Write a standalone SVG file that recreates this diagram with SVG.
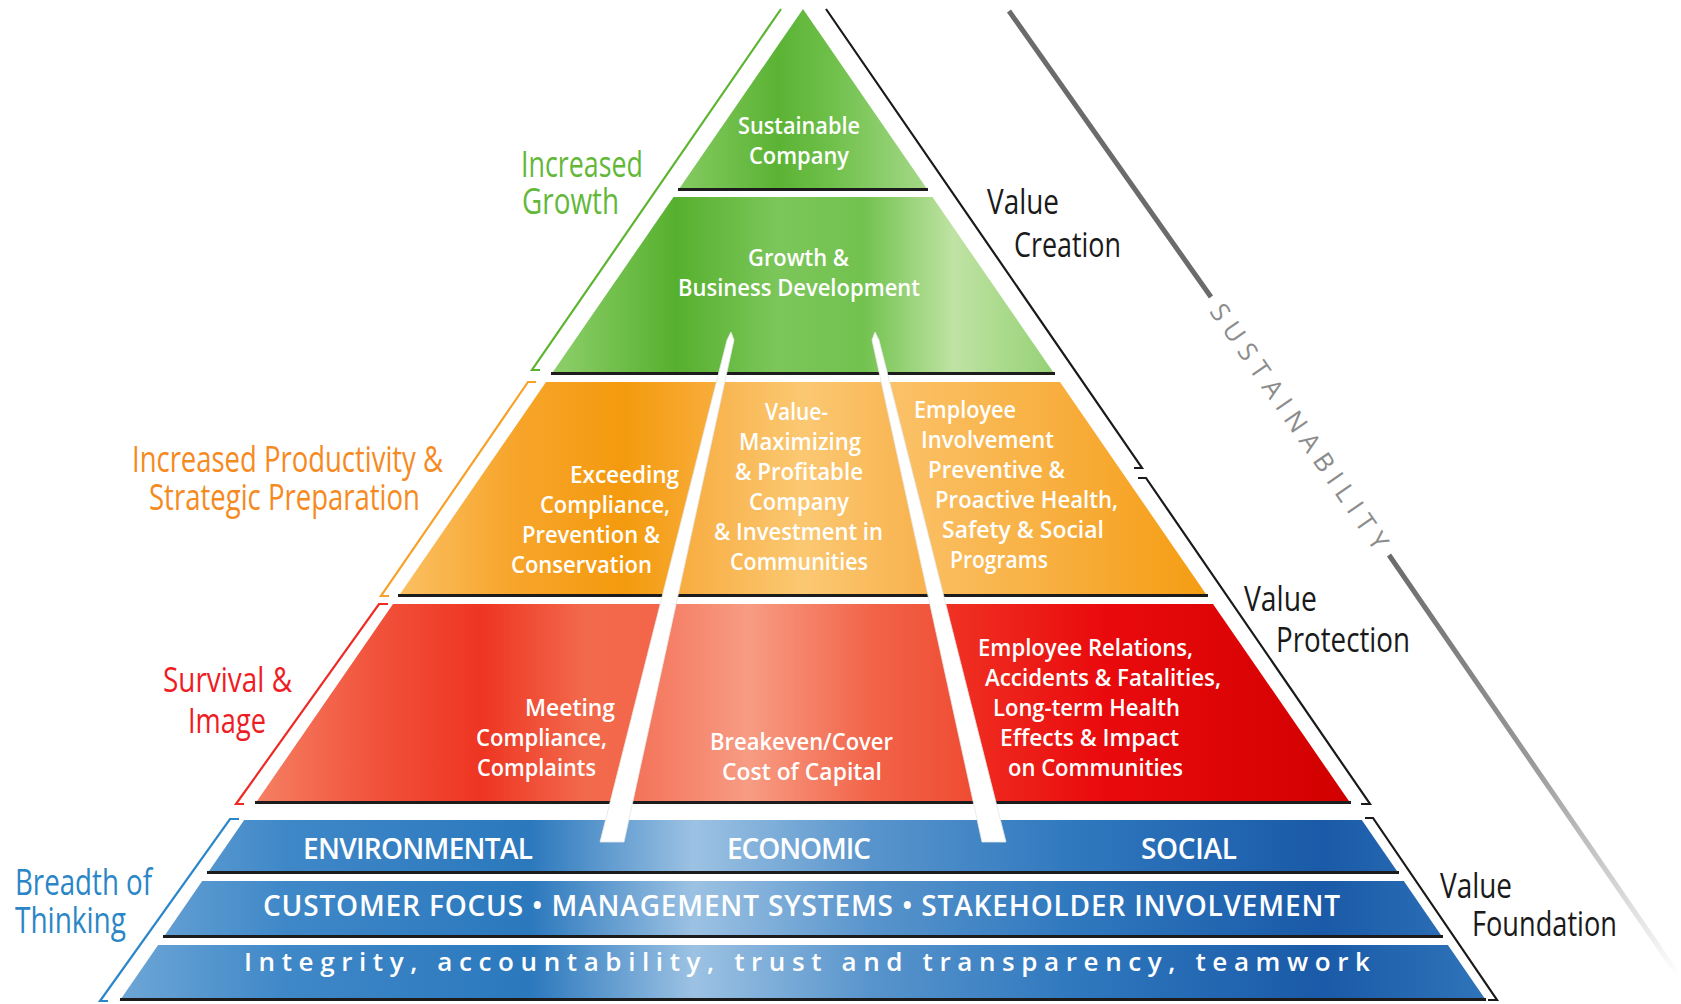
<svg xmlns="http://www.w3.org/2000/svg" width="1681" height="1004" viewBox="0 0 1681 1004">
<defs>
<style>
.tt{font-family:"Open Sans","Noto Sans","DejaVu Sans",sans-serif;font-weight:600;font-size:24px;fill:#ffffff}
.bt{font-family:"Open Sans","Noto Sans","DejaVu Sans",sans-serif;font-weight:600;font-size:28px;fill:#ffffff}
.lab{font-family:"Open Sans","Noto Sans","DejaVu Sans",sans-serif;font-weight:400;font-size:37px}
.dark{stroke:#1c1c1c;stroke-width:3;fill:none}
.br{fill:none;stroke-width:2.2;stroke-linejoin:miter}
.bar{fill:#ffffff;stroke:#e6e6e6;stroke-width:0.8}
</style>
<linearGradient id="gT1" gradientUnits="userSpaceOnUse" x1="677" y1="0" x2="929" y2="0">
<stop offset="0" stop-color="#86cb63"/><stop offset="0.4" stop-color="#5bb334"/><stop offset="0.6" stop-color="#6dbf48"/><stop offset="1" stop-color="#a6d98a"/>
</linearGradient>
<linearGradient id="gT2" gradientUnits="userSpaceOnUse" x1="550" y1="0" x2="1055" y2="0">
<stop offset="0" stop-color="#8fd06d"/><stop offset="0.25" stop-color="#56b02e"/><stop offset="0.45" stop-color="#7cc65a"/><stop offset="0.62" stop-color="#72c24f"/><stop offset="0.8" stop-color="#bfe3a3"/><stop offset="1" stop-color="#95d175"/>
</linearGradient>
<linearGradient id="gOL" gradientUnits="userSpaceOnUse" x1="398" y1="0" x2="720" y2="0">
<stop offset="0" stop-color="#fbc063"/><stop offset="0.35" stop-color="#f7a52c"/><stop offset="0.7" stop-color="#f49a0e"/><stop offset="1" stop-color="#f8ae3d"/>
</linearGradient>
<linearGradient id="gOM" gradientUnits="userSpaceOnUse" x1="670" y1="0" x2="936" y2="0">
<stop offset="0" stop-color="#f7aa3c"/><stop offset="0.5" stop-color="#fbc872"/><stop offset="1" stop-color="#f8b04a"/>
</linearGradient>
<linearGradient id="gOR" gradientUnits="userSpaceOnUse" x1="886" y1="0" x2="1208" y2="0">
<stop offset="0" stop-color="#fbc26a"/><stop offset="0.5" stop-color="#f8b041"/><stop offset="1" stop-color="#f59c12"/>
</linearGradient>
<linearGradient id="gRL" gradientUnits="userSpaceOnUse" x1="255" y1="0" x2="668" y2="0">
<stop offset="0" stop-color="#f58063"/><stop offset="0.3" stop-color="#f1513a"/><stop offset="0.55" stop-color="#ee3522"/><stop offset="0.8" stop-color="#f26a4c"/><stop offset="1" stop-color="#f4654a"/>
</linearGradient>
<linearGradient id="gRM" gradientUnits="userSpaceOnUse" x1="621" y1="0" x2="985" y2="0">
<stop offset="0" stop-color="#f36e54"/><stop offset="0.35" stop-color="#f79c83"/><stop offset="0.7" stop-color="#f26247"/><stop offset="1" stop-color="#ee4a30"/>
</linearGradient>
<linearGradient id="gRR" gradientUnits="userSpaceOnUse" x1="938" y1="0" x2="1351" y2="0">
<stop offset="0" stop-color="#f03424"/><stop offset="0.4" stop-color="#ea0a0d"/><stop offset="1" stop-color="#d10000"/>
</linearGradient>
<linearGradient id="gB" gradientUnits="userSpaceOnUse" x1="120" y1="0" x2="1486" y2="0">
<stop offset="0" stop-color="#6ea6d6"/><stop offset="0.12" stop-color="#3f88c8"/><stop offset="0.3" stop-color="#2b78bd"/><stop offset="0.42" stop-color="#9cc2e3"/><stop offset="0.55" stop-color="#5894cc"/><stop offset="0.7" stop-color="#2f78be"/><stop offset="0.88" stop-color="#1a5aa8"/><stop offset="1" stop-color="#2f74b9"/>
</linearGradient>
<linearGradient id="gGray" gradientUnits="userSpaceOnUse" x1="1389" y1="555" x2="1678" y2="975">
<stop offset="0" stop-color="#6b6b6b"/><stop offset="0.5" stop-color="#9a9a9a"/><stop offset="1" stop-color="#ffffff"/>
</linearGradient>
</defs>
<rect width="1681" height="1004" fill="#ffffff"/>

<!-- Green tiers -->
<g id="tier-sustainable-company">
<polygon points="803,9 928.4,191 677.6,191" fill="url(#gT1)"/>
<line class="dark" x1="678" y1="189.5" x2="928" y2="189.5"/>
<text class="tt" x="738" y="134" textLength="122" lengthAdjust="spacingAndGlyphs">Sustainable</text>
<text class="tt" x="749" y="164" textLength="100" lengthAdjust="spacingAndGlyphs">Company</text>
</g>
<g id="tier-growth">
<polygon points="673.5,197 932.5,197 1055.2,375 550.8,375" fill="url(#gT2)"/>
<line class="dark" x1="551" y1="373.5" x2="1055" y2="373.5"/>
<text class="tt" x="748" y="266" textLength="101" lengthAdjust="spacingAndGlyphs">Growth &amp;</text>
<text class="tt" x="678" y="296" textLength="242" lengthAdjust="spacingAndGlyphs">Business Development</text>
</g>

<!-- Orange tier -->
<g id="orange-exceeding">
<polygon points="546,382 720.2,382 669.6,597 398,597" fill="url(#gOL)"/>
<line class="dark" x1="398" y1="595.5" x2="670" y2="595.5"/>
<text class="tt" x="570" y="483" textLength="109" lengthAdjust="spacingAndGlyphs">Exceeding</text>
<text class="tt" x="540" y="513" textLength="130" lengthAdjust="spacingAndGlyphs">Compliance,</text>
<text class="tt" x="522" y="543" textLength="138" lengthAdjust="spacingAndGlyphs">Prevention &amp;</text>
<text class="tt" x="511" y="573" textLength="141" lengthAdjust="spacingAndGlyphs">Conservation</text>
</g>
<g id="orange-value-maximizing">
<polygon points="720.2,382 885.8,382 936.4,597 669.6,597" fill="url(#gOM)"/>
<line class="dark" x1="670" y1="595.5" x2="936" y2="595.5"/>
<text class="tt" x="765" y="420" textLength="63" lengthAdjust="spacingAndGlyphs">Value-</text>
<text class="tt" x="739" y="450" textLength="122" lengthAdjust="spacingAndGlyphs">Maximizing</text>
<text class="tt" x="735" y="480" textLength="128" lengthAdjust="spacingAndGlyphs">&amp; Profitable</text>
<text class="tt" x="749" y="510" textLength="100" lengthAdjust="spacingAndGlyphs">Company</text>
<text class="tt" x="714" y="540" textLength="169" lengthAdjust="spacingAndGlyphs">&amp; Investment in</text>
<text class="tt" x="730" y="570" textLength="138" lengthAdjust="spacingAndGlyphs">Communities</text>
</g>
<g id="orange-employee-involvement">
<polygon points="885.8,382 1060,382 1208,597 936.4,597" fill="url(#gOR)"/>
<line class="dark" x1="936" y1="595.5" x2="1208" y2="595.5"/>
<text class="tt" x="914" y="418" textLength="102" lengthAdjust="spacingAndGlyphs">Employee</text>
<text class="tt" x="921" y="448" textLength="133" lengthAdjust="spacingAndGlyphs">Involvement</text>
<text class="tt" x="928" y="478" textLength="137" lengthAdjust="spacingAndGlyphs">Preventive &amp;</text>
<text class="tt" x="935" y="508" textLength="183" lengthAdjust="spacingAndGlyphs">Proactive Health,</text>
<text class="tt" x="942" y="538" textLength="162" lengthAdjust="spacingAndGlyphs">Safety &amp; Social</text>
<text class="tt" x="950" y="568" textLength="98" lengthAdjust="spacingAndGlyphs">Programs</text>
</g>

<!-- Red tier -->
<g id="red-meeting-compliance">
<polygon points="393,604 668,604 620.9,804 255,804" fill="url(#gRL)"/>
<line class="dark" x1="255" y1="802.5" x2="621" y2="802.5"/>
<text class="tt" x="525" y="716" textLength="90" lengthAdjust="spacingAndGlyphs">Meeting</text>
<text class="tt" x="476" y="746" textLength="131" lengthAdjust="spacingAndGlyphs">Compliance,</text>
<text class="tt" x="477" y="776" textLength="119" lengthAdjust="spacingAndGlyphs">Complaints</text>
</g>
<g id="red-breakeven">
<polygon points="668,604 938,604 985.1,804 620.9,804" fill="url(#gRM)"/>
<line class="dark" x1="621" y1="802.5" x2="985" y2="802.5"/>
<text class="tt" x="710" y="750" textLength="183" lengthAdjust="spacingAndGlyphs">Breakeven/Cover</text>
<text class="tt" x="722" y="780" textLength="160" lengthAdjust="spacingAndGlyphs">Cost of Capital</text>
</g>
<g id="red-employee-relations">
<polygon points="938,604 1213,604 1351,804 985.1,804" fill="url(#gRR)"/>
<line class="dark" x1="985" y1="802.5" x2="1351" y2="802.5"/>
<text class="tt" x="978" y="656" textLength="215" lengthAdjust="spacingAndGlyphs">Employee Relations,</text>
<text class="tt" x="985" y="686" textLength="236" lengthAdjust="spacingAndGlyphs">Accidents &amp; Fatalities,</text>
<text class="tt" x="993" y="716" textLength="187" lengthAdjust="spacingAndGlyphs">Long-term Health</text>
<text class="tt" x="1000" y="746" textLength="179" lengthAdjust="spacingAndGlyphs">Effects &amp; Impact</text>
<text class="tt" x="1008" y="776" textLength="175" lengthAdjust="spacingAndGlyphs">on Communities</text>
</g>

<!-- Blue foundation -->
<g id="foundation-pillars">
<polygon points="244.2,820 1361.8,820 1399,874 207,874" fill="url(#gB)"/>
<line class="dark" x1="207" y1="872.5" x2="1399" y2="872.5"/>
<text class="bt" x="303" y="859" textLength="230">ENVIRONMENTAL</text>
<text class="bt" x="727" y="859" textLength="144">ECONOMIC</text>
<text class="bt" x="1141" y="859" textLength="96">SOCIAL</text>
</g>
<g id="foundation-systems">
<polygon points="202.2,881 1403.8,881 1443,938 163,938" fill="url(#gB)"/>
<line class="dark" x1="163" y1="936.5" x2="1443" y2="936.5"/>
<text class="bt" x="263" y="916" textLength="1077">CUSTOMER FOCUS • MANAGEMENT SYSTEMS • STAKEHOLDER INVOLVEMENT</text>
</g>
<g id="foundation-values">
<polygon points="158.1,945 1447.9,945 1486.5,1001 119.5,1001" fill="url(#gB)"/>
<line class="dark" x1="120" y1="999.5" x2="1486" y2="999.5"/>
<text class="bt" x="244" y="971" textLength="1126" style="font-size:26px">Integrity, accountability, trust and transparency, teamwork</text>
</g>

<!-- White dividing bars -->
<g id="dividers">
<polygon class="bar" points="731,332 734,340 624,842 600,842 727,340"/>
<polygon class="bar" points="875,332 879,340 1006,842 982,842 872,340"/>
</g>

<!-- Connectors / brackets -->
<g id="connectors">
<path class="br" stroke="#5cb531" d="M781,9 L532,370 L540,370"/>
<path class="br" stroke="#f7a12a" d="M536,382 L528,382 L381,596 L389,596"/>
<path class="br" stroke="#ee2a24" d="M388,604 L379,604 L236,804 L244,804"/>
<path class="br" stroke="#2c87c8" d="M239,819 L230,819 L100,1001 L108,1001"/>
<path class="br" stroke="#1a1a1a" d="M826,9 L1142,468 L1134,468"/>
<path class="br" stroke="#1a1a1a" d="M1138,478 L1146,478 L1370,804 L1361,804"/>
<path class="br" stroke="#1a1a1a" d="M1365,818 L1373,818 L1497,1000 L1488,1000"/>
<line x1="1009" y1="11" x2="1211" y2="297" stroke="#6b6b6b" stroke-width="5"/>
<line x1="1389" y1="555" x2="1678" y2="975" stroke="url(#gGray)" stroke-width="5"/>
</g>

<!-- Side labels -->
<g id="label-increased-growth" class="lab" fill="#63b83a">
<text x="521" y="177" textLength="122" lengthAdjust="spacingAndGlyphs">Increased</text>
<text x="522" y="214" textLength="97" lengthAdjust="spacingAndGlyphs">Growth</text>
</g>
<g id="label-productivity" class="lab" fill="#f58a1f">
<text x="132" y="472" textLength="311" lengthAdjust="spacingAndGlyphs">Increased Productivity &amp;</text>
<text x="149" y="510" textLength="271" lengthAdjust="spacingAndGlyphs">Strategic Preparation</text>
</g>
<g id="label-survival" class="lab" fill="#ee1c25" style="font-size:35px">
<text x="163" y="692" textLength="129" lengthAdjust="spacingAndGlyphs">Survival &amp;</text>
<text x="188" y="733" textLength="78" lengthAdjust="spacingAndGlyphs">Image</text>
</g>
<g id="label-breadth" class="lab" fill="#2a86c6" style="font-size:36px">
<text x="15" y="895" textLength="137" lengthAdjust="spacingAndGlyphs">Breadth of</text>
<text x="15" y="933" textLength="111" lengthAdjust="spacingAndGlyphs">Thinking</text>
</g>
<g id="label-value-creation" class="lab" fill="#1a1a1a" style="font-size:34px">
<text x="987" y="214" textLength="72" lengthAdjust="spacingAndGlyphs">Value</text>
<text x="1014" y="257" textLength="107" lengthAdjust="spacingAndGlyphs">Creation</text>
</g>
<g id="label-value-protection" class="lab" fill="#1a1a1a" style="font-size:34px">
<text x="1244" y="611" textLength="73" lengthAdjust="spacingAndGlyphs">Value</text>
<text x="1276" y="652" textLength="134" lengthAdjust="spacingAndGlyphs">Protection</text>
</g>
<g id="label-value-foundation" class="lab" fill="#1a1a1a" style="font-size:34px">
<text x="1440" y="898" textLength="72" lengthAdjust="spacingAndGlyphs">Value</text>
<text x="1472" y="936" textLength="145" lengthAdjust="spacingAndGlyphs">Foundation</text>
</g>
<g id="label-sustainability">
<text transform="translate(1300,426) rotate(55.4)" x="0" y="0" text-anchor="middle" dominant-baseline="central" textLength="292" style="font-family:'Open Sans','Noto Sans',sans-serif;font-size:26px;font-weight:400;fill:#8c8c8c">SUSTAINABILITY</text>
</g>
</svg>
